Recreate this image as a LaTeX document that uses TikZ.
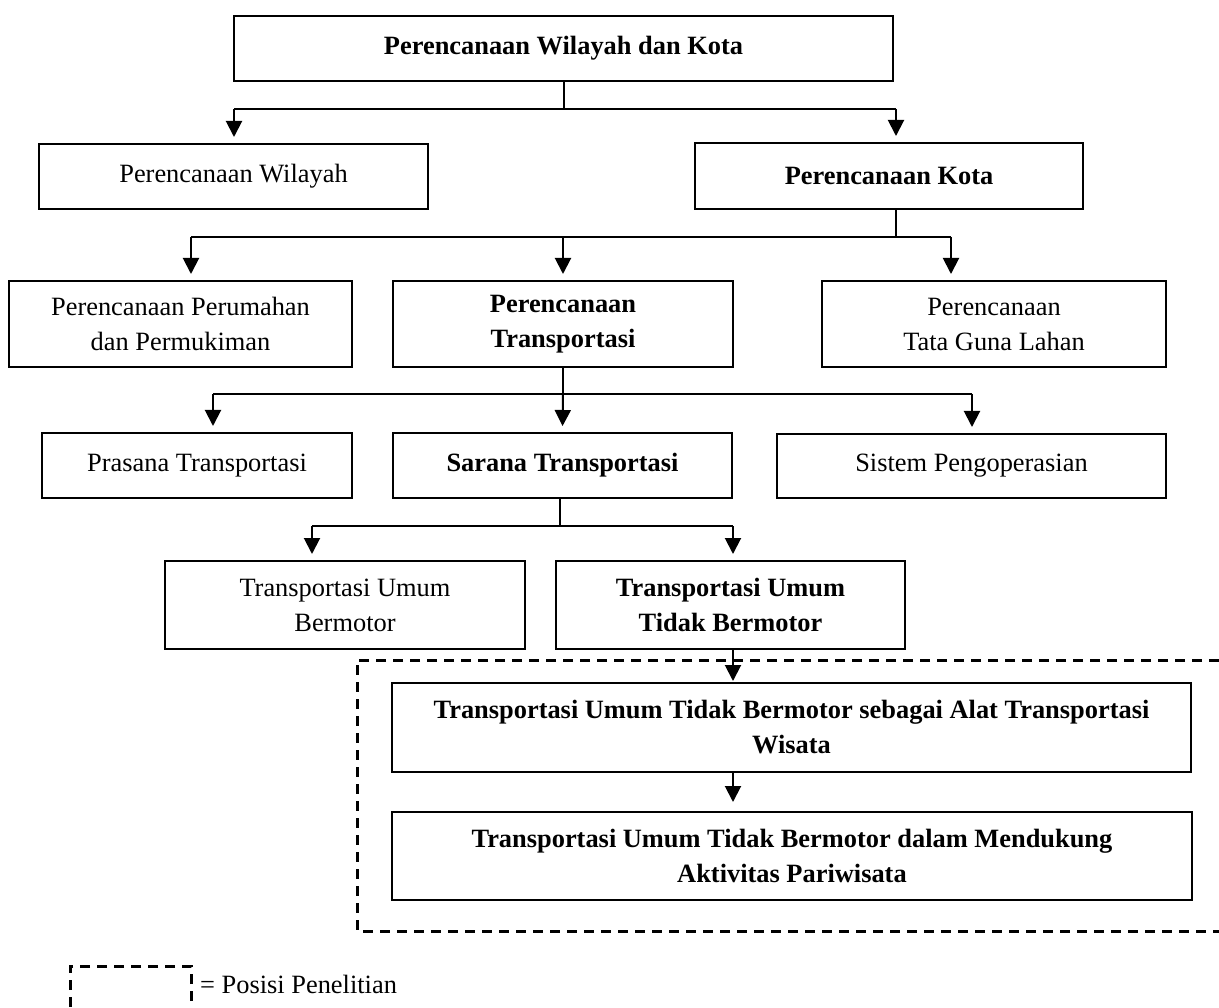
\documentclass[tikz,border=0pt]{standalone}
\usepackage{fontspec}
\setmainfont{Liberation Serif}
\usetikzlibrary{arrows.meta}
\tikzset{
  box/.style={draw, line width=2pt, align=center, inner sep=0pt},
  arr/.style={line width=2pt, -{Triangle[width=16pt,length=16pt]}, shorten >=6pt},
  link/.style={line width=2pt},
  zone/.style={line width=3pt, dash pattern=on 10pt off 7pt}
}
\begin{document}
\begin{tikzpicture}[x=1pt,y=-1pt,font=\fontsize{26.4}{35}\selectfont]
\useasboundingbox (0,0) rectangle (1219,1008);
\node[box, minimum width=659pt, minimum height=65pt] (pwk) at (563.5,48.5) {\textbf{Perencanaan Wilayah dan Kota}};
\node[box, minimum width=389pt, minimum height=65pt] (pw) at (233.5,176.5) {Perencanaan Wilayah};
\node[box, minimum width=388pt, minimum height=66pt] (pk) at (889,176) {\textbf{Perencanaan Kota}};
\node[box, minimum width=343pt, minimum height=86pt] (perum) at (180.5,324) {Perencanaan Perumahan\\dan Permukiman};
\node[box, minimum width=340pt, minimum height=86pt] (ptrans) at (563,324) {\textbf{Perencanaan}\\\textbf{Transportasi}};
\node[box, minimum width=344pt, minimum height=86pt] (tgl) at (994,324) {Perencanaan\\Tata Guna Lahan};
\node[box, minimum width=310pt, minimum height=65pt] (prasana) at (197,465.5) {Prasana Transportasi};
\node[box, minimum width=339pt, minimum height=65pt] (sarana) at (562.5,465.5) {\textbf{Sarana Transportasi}};
\node[box, minimum width=389pt, minimum height=64pt] (sistem) at (971.5,466) {Sistem Pengoperasian};
\node[box, minimum width=360pt, minimum height=88pt] (tum) at (345,605) {Transportasi Umum\\Bermotor};
\node[box, minimum width=349pt, minimum height=88pt] (tutb) at (730.5,605) {\textbf{Transportasi Umum}\\\textbf{Tidak Bermotor}};
\node[box, minimum width=799pt, minimum height=89pt] (wisata) at (791.5,727.5) {\textbf{Transportasi Umum Tidak Bermotor sebagai Alat Transportasi}\\\textbf{Wisata}};
\node[box, minimum width=800pt, minimum height=88pt] (pariwisata) at (792,856) {\textbf{Transportasi Umum Tidak Bermotor dalam Mendukung}\\\textbf{Aktivitas Pariwisata}};
% junctions
\coordinate (j1) at (563.5,109);
\coordinate (j1l) at (234,109);
\coordinate (j1r) at (896,109);
\coordinate (j2) at (896,237);
\coordinate (j2l) at (191,237);
\coordinate (j2m) at (563,237);
\coordinate (j2r) at (951,237);
\coordinate (j3) at (563,394);
\coordinate (j3l) at (213,394);
\coordinate (j3r) at (972,394);
\coordinate (j4) at (560,526);
\coordinate (j4l) at (312,526);
\coordinate (j4r) at (733,526);
% connectors
\draw[link] (pwk.south) -- (j1);
\draw[link] (j1l) -- (j1r);
\draw[arr] (j1l) -- (j1l |- pw.north);
\draw[arr] (j1r) -- (j1r |- pk.north);
\draw[link] (j2 |- pk.south) -- (j2);
\draw[link] (j2l) -- (j2r);
\draw[arr] (j2l) -- (j2l |- perum.north);
\draw[arr] (j2m) -- (ptrans.north);
\draw[arr] (j2r) -- (j2r |- tgl.north);
\draw[link] (ptrans.south) -- (j3);
\draw[link] (j3l) -- (j3r);
\draw[arr] (j3l) -- (j3l |- prasana.north);
\draw[arr] (j3) -- (sarana.north);
\draw[arr] (j3r) -- (j3r |- sistem.north);
\draw[link] (j4 |- sarana.south) -- (j4);
\draw[link] (j4l) -- (j4r);
\draw[arr] (j4l) -- (j4l |- tum.north);
\draw[arr] (j4r) -- (j4r |- tutb.north);
\draw[arr, shorten >=1pt] (j4r |- tutb.south) -- (j4r |- wisata.north);
\draw[arr, shorten >=9pt] (j4r |- wisata.south) -- (j4r |- pariwisata.north);
% research area
\draw[zone] (1219,660) -- (357,660) -- (357,931) -- (1219,931);
% legend
\node[zone, draw, minimum width=121pt, minimum height=50pt, inner sep=0pt] (legend) at (130.5,991) {};
\node[anchor=base west, inner sep=0pt] (legtxt) at (200,993) {= Posisi Penelitian};
\end{tikzpicture}
\end{document}
